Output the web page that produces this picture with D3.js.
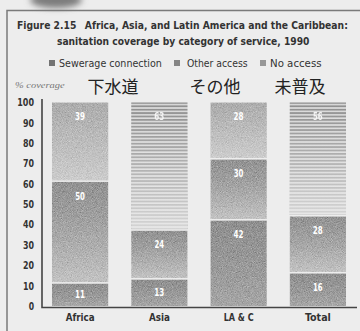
<!DOCTYPE html>
<html>
<head>
<meta charset="utf-8">
<script src="https://cdn.jsdelivr.net/npm/d3@7"></script>
<style>
  html, body { margin: 0; padding: 0; background: #ededed; }
  svg { display: block; }
  .narrow { font-family: "Liberation Sans Narrow", "DejaVu Sans Condensed", "Arial Narrow", sans-serif; }
</style>
</head>
<body>
<div id="chart"></div>
<script>
// Sanitation coverage by category of service, 1990 (percent of population)
const categories = ["Africa", "Asia", "LA & C", "Total"];
const sewerage = [11, 13, 42, 16];
const otherAccess = [50, 24, 30, 28];
const noAccess = [39, 63, 28, 56];
const yTicks = [0, 10, 20, 30, 40, 50, 60, 70, 80, 90, 100];
const legendLabels = ["Sewerage connection", "Other access", "No access"];
const jpLabels = ["下水道", "その他", "未普及"];
// categories whose "no access" block is drawn with horizontal rules
const striped = ["Asia", "Total"];

const W = 360, H = 331;
const svg = d3.select("#chart").append("svg")
  .attr("width", W).attr("height", H);

const defs = svg.append("defs");

function vGrad(id, top, bottom) {
  const g = defs.append("linearGradient").attr("id", id)
    .attr("x1", 0).attr("y1", 0).attr("x2", 0).attr("y2", 1);
  g.append("stop").attr("offset", "0%").attr("stop-color", top);
  g.append("stop").attr("offset", "100%").attr("stop-color", bottom);
}
vGrad("gSewer", "#464646", "#8e8e8e");
vGrad("gOther", "#535353", "#cccccc");
vGrad("gNone", "#9b9b9b", "#e2e2e2");
// fade applied over the ruled blocks
const fade = defs.append("linearGradient").attr("id", "gFade")
  .attr("x1", 0).attr("y1", 0).attr("x2", 0).attr("y2", 1);
fade.append("stop").attr("offset", "0%").attr("stop-color", "#ececec").attr("stop-opacity", 0);
fade.append("stop").attr("offset", "100%").attr("stop-color", "#ececec").attr("stop-opacity", 0.75);

const pat = defs.append("pattern").attr("id", "pRule")
  .attr("patternUnits", "userSpaceOnUse").attr("width", 6).attr("height", 3.4);
pat.append("rect").attr("width", 6).attr("height", 3.4).attr("fill", "#dcdcdc");
pat.append("rect").attr("width", 6).attr("height", 1.8).attr("fill", "#8e8e8e");

const blur = defs.append("filter").attr("id", "soft")
  .attr("x", "-50%").attr("y", "-50%").attr("width", "200%").attr("height", "200%");
blur.append("feGaussianBlur").attr("stdDeviation", 3);
const blurSm = defs.append("filter").attr("id", "softSm");
blurSm.append("feGaussianBlur").attr("stdDeviation", 0.6);

// light halftone-like grain for the shaded blocks
const grain = defs.append("filter").attr("id", "grain")
  .attr("x", 0).attr("y", 0).attr("width", "100%").attr("height", "100%");
grain.append("feTurbulence").attr("type", "fractalNoise").attr("baseFrequency", 1.2)
  .attr("numOctaves", 1).attr("seed", 4).attr("result", "noise");
grain.append("feColorMatrix").attr("in", "noise").attr("type", "matrix")
  .attr("values", "0.33 0.33 0.33 0 0  0.33 0.33 0.33 0 0  0.33 0.33 0.33 0 0  0 0 0 0 1")
  .attr("result", "gray");
const ct = grain.append("feComponentTransfer").attr("in", "gray").attr("result", "contrast");
["feFuncR", "feFuncG", "feFuncB"].forEach(f =>
  ct.append(f).attr("type", "linear").attr("slope", 0.7).attr("intercept", 0.15));
grain.append("feBlend").attr("in", "SourceGraphic").attr("in2", "contrast")
  .attr("mode", "soft-light").attr("result", "mixed");
grain.append("feComposite").attr("in", "mixed").attr("in2", "SourceGraphic").attr("operator", "in");

// fit a text element horizontally into a given width, around its anchor
function fitWidth(sel, width) {
  sel.each(function () {
    const node = this;
    const w = node.getBBox().width;
    const target = typeof width === "function" ? width(d3.select(node).datum()) : width;
    if (!w || !target) return;
    const s = target / w;
    const ax = +node.getAttribute("x") || 0;
    const prev = node.getAttribute("transform") || "";
    node.setAttribute("transform",
      `${prev} translate(${ax},0) scale(${s},1) translate(${-ax},0)`);
  });
}

// page background and frame
svg.append("rect").attr("width", W).attr("height", H).attr("fill", "#ededed");
svg.append("ellipse").attr("cx", 56).attr("cy", 0).attr("rx", 26).attr("ry", 8)
  .attr("fill", "#7d7d7d").attr("filter", "url(#soft)");
svg.append("path").attr("d", `M7,${H} V10.5 H${W}`)
  .attr("fill", "none").attr("stroke", "#7a7a7a").attr("stroke-width", 1.5);

// title
const title = svg.append("g").attr("class", "narrow")
  .attr("font-weight", "bold").attr("font-size", 11).attr("fill", "#333");
const t1 = title.append("text").attr("x", 17).attr("y", 29);
t1.append("tspan").text("Figure 2.15");
t1.append("tspan").attr("dx", 9).text("Africa, Asia, and Latin America and the Caribbean:");
t1.call(fitWidth, 331);
title.append("text").attr("x", 57).attr("y", 45)
  .text("sanitation coverage by category of service, 1990")
  .call(fitWidth, 253);

// legend
const legendItems = [
  { label: legendLabels[0], sx: 49, tx: 59, tw: 103, fill: "#737373" },
  { label: legendLabels[1], sx: 174, tx: 187, tw: 61, fill: "#858585" },
  { label: legendLabels[2], sx: 260, tx: 270, tw: 52, fill: "#979797" }
];
const lg = svg.append("g").attr("class", "narrow");
lg.selectAll("rect").data(legendItems).join("rect")
  .attr("x", d => d.sx).attr("y", 60).attr("width", 6).attr("height", 6)
  .attr("fill", d => d.fill);
lg.selectAll("text").data(legendItems).join("text")
  .attr("x", d => d.tx).attr("y", 67)
  .attr("font-size", 10).attr("fill", "#333")
  .text(d => d.label)
  .call(fitWidth, d => d.tw);

// Japanese category headings
svg.append("g").selectAll("text").data(jpLabels).join("text")
  .attr("x", (d, i) => [113, 215, 300][i]).attr("y", 93)
  .attr("text-anchor", "middle")
  .attr("font-family", "'Noto Sans CJK JP', sans-serif")
  .attr("font-size", 17).attr("fill", "#222")
  .text(d => d);

svg.append("text").attr("x", 15).attr("y", 88)
  .attr("font-family", "'Liberation Serif', serif").attr("font-style", "italic")
  .attr("font-size", 8.5).attr("fill", "#777")
  .text("% coverage")
  .call(fitWidth, 50);

// scales
const x = d3.scaleBand().domain(categories).range([42, 356])
  .paddingInner(0.29).paddingOuter(0.126);
const y = d3.scaleLinear().domain([0, 100]).range([306, 102.5]);

// stacked data
const rows = categories.map((c, i) => ({
  cat: c, sewerage: sewerage[i], other: otherAccess[i], none: noAccess[i]
}));
const keys = ["sewerage", "other", "none"];
const stack = d3.stack().keys(keys)(rows);

const shaded = svg.append("g").attr("filter", "url(#grain)");
const ruledG = svg.append("g");
const labels = svg.append("g");
stack.forEach(layer => {
  const key = layer.key;
  layer.forEach(seg => {
    const cat = seg.data.cat;
    const x0 = x(cat), bw = x.bandwidth();
    const yTop = y(seg[1]), yBot = y(seg[0]);
    const h = yBot - yTop;
    const gap = key === "sewerage" ? 0 : 1.5;
    const ruled = key === "none" && striped.includes(cat);
    if (ruled) {
      ruledG.append("rect").attr("x", x0).attr("y", yTop).attr("width", bw).attr("height", h - gap)
        .attr("fill", "url(#pRule)");
      ruledG.append("rect").attr("x", x0).attr("y", yTop).attr("width", bw).attr("height", h - gap)
        .attr("fill", "url(#gFade)");
    } else {
      const fill = key === "sewerage" ? "url(#gSewer)" : key === "other" ? "url(#gOther)" : "url(#gNone)";
      shaded.append("rect").attr("x", x0).attr("y", yTop).attr("width", bw).attr("height", h - gap)
        .attr("fill", fill);
    }
    const v = seg[1] - seg[0];
    const ly = yTop + Math.min(14, h / 2);
    labels.append("text").attr("class", "narrow")
      .attr("x", x0 + bw / 2).attr("y", ly).attr("dy", "0.35em")
      .attr("text-anchor", "middle").attr("font-weight", "bold")
      .attr("font-size", 10.5).attr("fill", ruled ? "#f4f4f4" : "#ffffff")
      .attr("filter", ruled ? "url(#softSm)" : null)
      .text(v)
      .call(fitWidth, 10);
  });
});

// y axis
const yAxis = svg.append("g").attr("transform", "translate(34,0)")
  .call(d3.axisLeft(y).tickValues(yTicks).tickSize(0).tickPadding(0));
yAxis.select(".domain").remove();
yAxis.selectAll("text").attr("class", "narrow")
  .attr("font-size", 10.5).attr("font-weight", "bold").attr("fill", "#333")
  .attr("text-anchor", "end").attr("x", 0)
  .call(fitWidth, d => String(d).length * 5.7);

// x axis labels
const xAxis = svg.append("g").attr("transform", "translate(0,314)")
  .call(d3.axisBottom(x).tickSize(0).tickPadding(0));
xAxis.select(".domain").remove();
xAxis.selectAll("text").attr("class", "narrow")
  .attr("font-size", 10.5).attr("font-weight", "bold").attr("fill", "#333")
  .attr("x", 0)
  .call(fitWidth, d => ({ "Africa": 29, "Asia": 21, "LA & C": 30, "Total": 26 })[d]);

// axis lines
svg.append("path").attr("d", `M42,99 V307.5 H357`)
  .attr("fill", "none").attr("stroke", "#444").attr("stroke-width", 1.6);
</script>
</body>
</html>
